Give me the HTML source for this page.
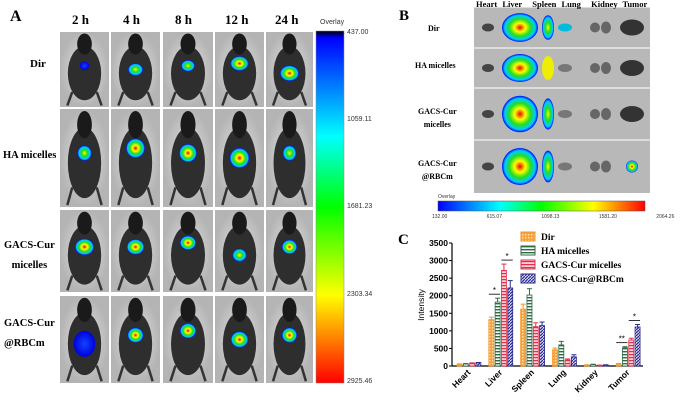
<!DOCTYPE html>
<html><head><meta charset="utf-8"><style>
body{margin:0;background:#fff;}
#root{position:relative;width:680px;height:408px;overflow:hidden;font-family:"Liberation Serif",serif;}
.t{position:absolute;font-weight:bold;white-space:nowrap;color:#000;}
.s{position:absolute;font-family:"Liberation Sans",sans-serif;font-size:7px;color:#333;white-space:nowrap;}
</style></head><body>
<div id="root">
<div class="t" style="left:10px;top:8px;font-size:16px">A</div>
<div class="t" style="left:72px;top:12px;font-size:13px">2 h</div>
<div class="t" style="left:123px;top:12px;font-size:13px">4 h</div>
<div class="t" style="left:175px;top:12px;font-size:13px">8 h</div>
<div class="t" style="left:225px;top:12px;font-size:13px">12 h</div>
<div class="t" style="left:275px;top:12px;font-size:13px">24 h</div>
<div class="t" style="left:30px;top:58px;font-size:11px">Dir</div>
<div class="t" style="left:3px;top:150px;font-size:10.5px">HA micelles</div>
<div class="t" style="left:4px;top:236px;font-size:10.5px;text-align:center;line-height:20px">GACS-Cur<br>micelles</div>
<div class="t" style="left:4px;top:314px;font-size:10.5px;line-height:20px">GACS-Cur<br>@RBCm</div>
<svg id="mice" width="680" height="408" style="position:absolute;left:0;top:0">
<defs>
<radialGradient id="blob"><stop offset="0" stop-color="#e00"/><stop offset="0.3" stop-color="#ff0"/><stop offset="0.6" stop-color="#2d2"/><stop offset="0.85" stop-color="#0cf"/><stop offset="1" stop-color="#00f"/></radialGradient>
<radialGradient id="blob2"><stop offset="0" stop-color="#ff0"/><stop offset="0.4" stop-color="#2d2"/><stop offset="0.8" stop-color="#0cf"/><stop offset="1" stop-color="#00f"/></radialGradient>
<radialGradient id="blob3"><stop offset="0" stop-color="#14f"/><stop offset="1" stop-color="#00d"/></radialGradient>
<radialGradient id="bg"><stop offset="0" stop-color="#e4e4e4"/><stop offset="1" stop-color="#b4b4b4"/></radialGradient>
<linearGradient id="vbar" x1="0" y1="0" x2="0" y2="1"><stop offset="0" stop-color="#000"/><stop offset="0.02" stop-color="#00f"/><stop offset="0.3" stop-color="#0ff"/><stop offset="0.5" stop-color="#0f0"/><stop offset="0.75" stop-color="#ff0"/><stop offset="1" stop-color="#f00"/></linearGradient>
<linearGradient id="hbar" x1="0" y1="0" x2="1" y2="0"><stop offset="0" stop-color="#00f"/><stop offset="0.3" stop-color="#0ff"/><stop offset="0.5" stop-color="#0f0"/><stop offset="0.75" stop-color="#ff0"/><stop offset="1" stop-color="#f00"/></linearGradient>
<pattern id="pDir" width="3" height="3" patternUnits="userSpaceOnUse"><rect width="3" height="3" fill="#f7a040"/><rect width="1.5" height="1.5" fill="#fde0b0"/></pattern>
<pattern id="pHA" width="3" height="3" patternUnits="userSpaceOnUse"><rect width="3" height="3" fill="#fff"/><rect width="3" height="1.4" fill="#2e6b45"/></pattern>
<pattern id="pGA" width="3" height="3" patternUnits="userSpaceOnUse"><rect width="3" height="3" fill="#fbd0d8"/><rect width="3" height="1.2" fill="#e0304a"/></pattern>
<pattern id="pRB" width="3" height="3" patternUnits="userSpaceOnUse"><rect width="3" height="3" fill="#d8d8f4"/><path d="M0 3L3 0" stroke="#2a2a8c" stroke-width="1.2"/></pattern>
</defs>
<rect x="316" y="31" width="28" height="352" fill="url(#vbar)" stroke="#888" stroke-width="0.5"/>
<rect x="474" y="7" width="176" height="186" fill="#b8b8b8"/>
<rect x="438" y="201" width="207" height="10" fill="url(#hbar)" stroke="#555" stroke-width="0.5"/>
</svg>
<div class="s" style="left:320px;top:19px">Overlay</div>
<div class="s" style="left:347px;top:29px">437.00</div>
<div class="s" style="left:347px;top:116px">1059.11</div>
<div class="s" style="left:347px;top:203px">1681.23</div>
<div class="s" style="left:347px;top:291px">2303.34</div>
<div class="s" style="left:347px;top:378px">2925.46</div>
<div class="t" style="left:399px;top:8px;font-size:15px">B</div>
<div class="t" style="left:476px;top:-1px;font-size:8.5px;word-spacing:3px">Heart Liver &nbsp;Spleen Lung &nbsp;Kidney Tumor</div>
<div class="t" style="left:428px;top:24px;font-size:8px">Dir</div>
<div class="t" style="left:415px;top:61px;font-size:8px">HA micelles</div>
<div class="t" style="left:418px;top:105px;font-size:8px;line-height:13px;text-align:center">GACS-Cur<br>micelles</div>
<div class="t" style="left:418px;top:157px;font-size:8px;line-height:13px;text-align:center">GACS-Cur<br>@RBCm</div>
<div class="s" style="left:438px;top:194px;font-size:5px">Overlay</div>
<div class="s" style="left:432px;top:214px;font-size:5px;word-spacing:38px">132.00 615.07 1098.13 1581.20 2064.26</div>
<div class="t" style="left:398px;top:232px;font-size:15px">C</div>
<svg id="chart" width="680" height="408" style="position:absolute;left:0;top:0"></svg>
</div>
<script>
const categories=["Heart","Liver","Spleen","Lung","Kidney","Tumor"];
const seriesNames=["Dir","HA micelles","GACS-Cur micelles","GACS-Cur@RBCm"];
const dirVals=[50,1320,1620,460,30,60];
const haVals=[60,1820,2020,600,40,520];
const gacsVals=[80,2720,1120,170,20,740];
const rbcVals=[90,2220,1150,260,30,1110];
const dirErr=[10,70,140,50,5,10];
const haErr=[10,110,180,100,10,30];
const gacsErr=[10,180,110,30,5,50];
const rbcErr=[10,210,100,60,5,70];
const yTicks=[0,500,1000,1500,2000,2500,3000,3500];
const NS="http://www.w3.org/2000/svg";
function mk(p,tag,a){const e=document.createElementNS(NS,tag);for(const k in a)e.setAttribute(k,a[k]);p.appendChild(e);return e;}
// mice panels
const ms=document.getElementById('mice');
const cols=[60,111,163,215,266],cw=[49,49,50,49,47];
const rows=[32,109,210,296],rh=[75,98,82,87];
const blobs=[[0.1,0.45,0.35,0.65,0.75],[0.4,0.7,0.6,0.75,0.4],[0.7,0.6,0.5,0.4,0.5],[-1,0.5,0.5,0.6,0.5]];
const blobY=[[0.45,0.5,0.45,0.42,0.55],[0.45,0.4,0.45,0.5,0.45],[0.45,0.45,0.4,0.55,0.45],[0.5,0.45,0.4,0.5,0.45]];
for(let r=0;r<4;r++)for(let c=0;c<5;c++){
 const x=cols[c],y=rows[r],w=cw[c],h=rh[r];
 const g=mk(ms,'g',{});
 
 
 mk(g,'rect',{x:x,y:y,width:w,height:h,fill:'url(#bg)'});
 mk(g,'ellipse',{cx:x+w/2,cy:y+h*0.55,rx:w*0.34,ry:h*0.36,fill:'#2e2e2e'});
 mk(g,'ellipse',{cx:x+w/2,cy:y+h*0.16,rx:w*0.15,ry:h*0.14,fill:'#1a1a1a'});
 mk(g,'line',{x1:x+w*0.25,y1:y+h*0.8,x2:x+w*0.15,y2:y+h*0.98,stroke:'#333','stroke-width':2.5});
 mk(g,'line',{x1:x+w*0.75,y1:y+h*0.8,x2:x+w*0.85,y2:y+h*0.98,stroke:'#333','stroke-width':2.5});
 const s=blobs[r][c];
 if(s<0){mk(g,'ellipse',{cx:x+w/2,cy:y+h*0.55,rx:w*0.22,ry:h*0.15,fill:'url(#blob3)'});continue;}
 mk(g,'ellipse',{cx:x+w/2,cy:y+h*blobY[r][c],rx:w*0.08+w*0.16*s,ry:h*0.05+h*0.07*s,fill:s>0.45?'url(#blob)':(s>0.2?'url(#blob2)':'url(#blob3)')});
}
// organ panel
const orgRows=[7,48,88,140],orgH=[41,40,52,53];
const orgX=[488,520,548,565,595,620];
for(let r=0;r<4;r++){
 mk(ms,'line',{x1:474,x2:650,y1:orgRows[r],y2:orgRows[r],stroke:'#fff','stroke-width':1});
 const cy=orgRows[r]+orgH[r]/2;
 mk(ms,'ellipse',{cx:orgX[0],cy:cy,rx:6,ry:4,fill:'#444'});
 mk(ms,'ellipse',{cx:orgX[1],cy:cy,rx:18,ry:orgH[r]*0.35,fill:'url(#blob)'});
 mk(ms,'ellipse',{cx:orgX[2],cy:cy,rx:6,ry:orgH[r]*0.3,fill:r==1?'#ee0':'url(#blob2)'});
 mk(ms,'ellipse',{cx:orgX[3],cy:cy,rx:7,ry:4,fill:r>0?'#777':'#0bd'});
 mk(ms,'ellipse',{cx:orgX[4],cy:cy,rx:5,ry:5,fill:'#666'});
 mk(ms,'ellipse',{cx:orgX[4]+11,cy:cy,rx:5,ry:6,fill:'#666'});
 mk(ms,'ellipse',{cx:orgX[5]+12,cy:cy,rx:r==3?6:12,ry:r==3?6:8,fill:r==3?'url(#blob)':'#333'});
}
// chart C
const svg=document.getElementById('chart');
const X0=452,X1=643,Y0=366,Y1=243,YMAX=3500;
const y=v=>Y0-(v/YMAX)*(Y0-Y1);
const gw=(X1-X0)/categories.length;
const xg=i=>X0+gw*i+5;
const series=[dirVals,haVals,gacsVals,rbcVals],errs=[dirErr,haErr,gacsErr,rbcErr];
const fills=['url(#pDir)','url(#pHA)','url(#pGA)','url(#pRB)'];
const strokes=['#f7931e','#2e6b45','#e0304a','#2a2a8c'];
mk(svg,'line',{x1:X0,x2:X0,y1:Y1,y2:Y0,stroke:'#000','stroke-width':1.2});
mk(svg,'line',{x1:X0,x2:X1,y1:Y0,y2:Y0,stroke:'#000','stroke-width':1.2});
yTicks.forEach(t=>{
 mk(svg,'line',{x1:X0-3,x2:X0,y1:y(t),y2:y(t),stroke:'#000'});
 const tx=mk(svg,'text',{x:X0-4,y:y(t)+3,'text-anchor':'end','font-size':8.5,'font-weight':'bold','font-family':'Liberation Sans,sans-serif'});
 tx.textContent=t;
 
 
});
const yt=mk(svg,'text',{x:424,y:305,transform:'rotate(-90 424 305)','font-size':8.5,'font-family':'Liberation Sans,sans-serif','text-anchor':'middle'});
yt.textContent='Intensity';


categories.forEach((c,i)=>{
 series.forEach((s,k)=>{
  const bx=xg(i)+k*6.3,bw=5;
  const r=mk(svg,'rect',{x:bx,y:y(s[i]),width:bw,height:Y0-y(s[i]),fill:fills[k],stroke:strokes[k],'stroke-width':0.8});
  
  
  const top=y(s[i]+errs[k][i]);
  mk(svg,'line',{x1:bx+bw/2,x2:bx+bw/2,y1:y(s[i]),y2:top,stroke:strokes[k],'stroke-width':1});
  mk(svg,'line',{x1:bx,x2:bx+bw,y1:top,y2:top,stroke:strokes[k],'stroke-width':1});
 });
 const lx=xg(i)+14,ly=Y0+7;
 const tl=mk(svg,'text',{x:lx,y:ly,transform:`rotate(-45 ${lx} ${ly})`,'text-anchor':'end','font-size':8.5,'font-weight':'bold','font-family':'Liberation Sans,sans-serif'});
 tl.textContent=c;
 
 
});
function sig(i,a,b,lab){const yy=y(Math.max(series[a][i]+errs[a][i],series[b][i]+errs[b][i]))-4;
 const x1=xg(i)+a*6.3,x2=xg(i)+b*6.3+5;
 mk(svg,'line',{x1:x1,x2:x2,y1:yy,y2:yy,stroke:'#000','stroke-width':0.8});
 const t=mk(svg,'text',{x:(x1+x2)/2,y:yy-1,'text-anchor':'middle','font-size':8,'font-family':'Liberation Sans,sans-serif'});t.textContent=lab;}
sig(1,0,1,'*');sig(1,2,3,'*');sig(5,0,1,'**');sig(5,2,3,'*');
seriesNames.forEach((n,k)=>{
 const ly=232+k*14;
 const r=mk(svg,'rect',{x:521,y:ly,width:14,height:9,fill:fills[k],stroke:strokes[k],'stroke-width':1});
 
 
 const t=mk(svg,'text',{x:541,y:ly+8,'font-size':9.5,'font-weight':'bold','font-family':'Liberation Serif,serif'});
 t.textContent=n;
 
 
});
</script>
</body></html>
